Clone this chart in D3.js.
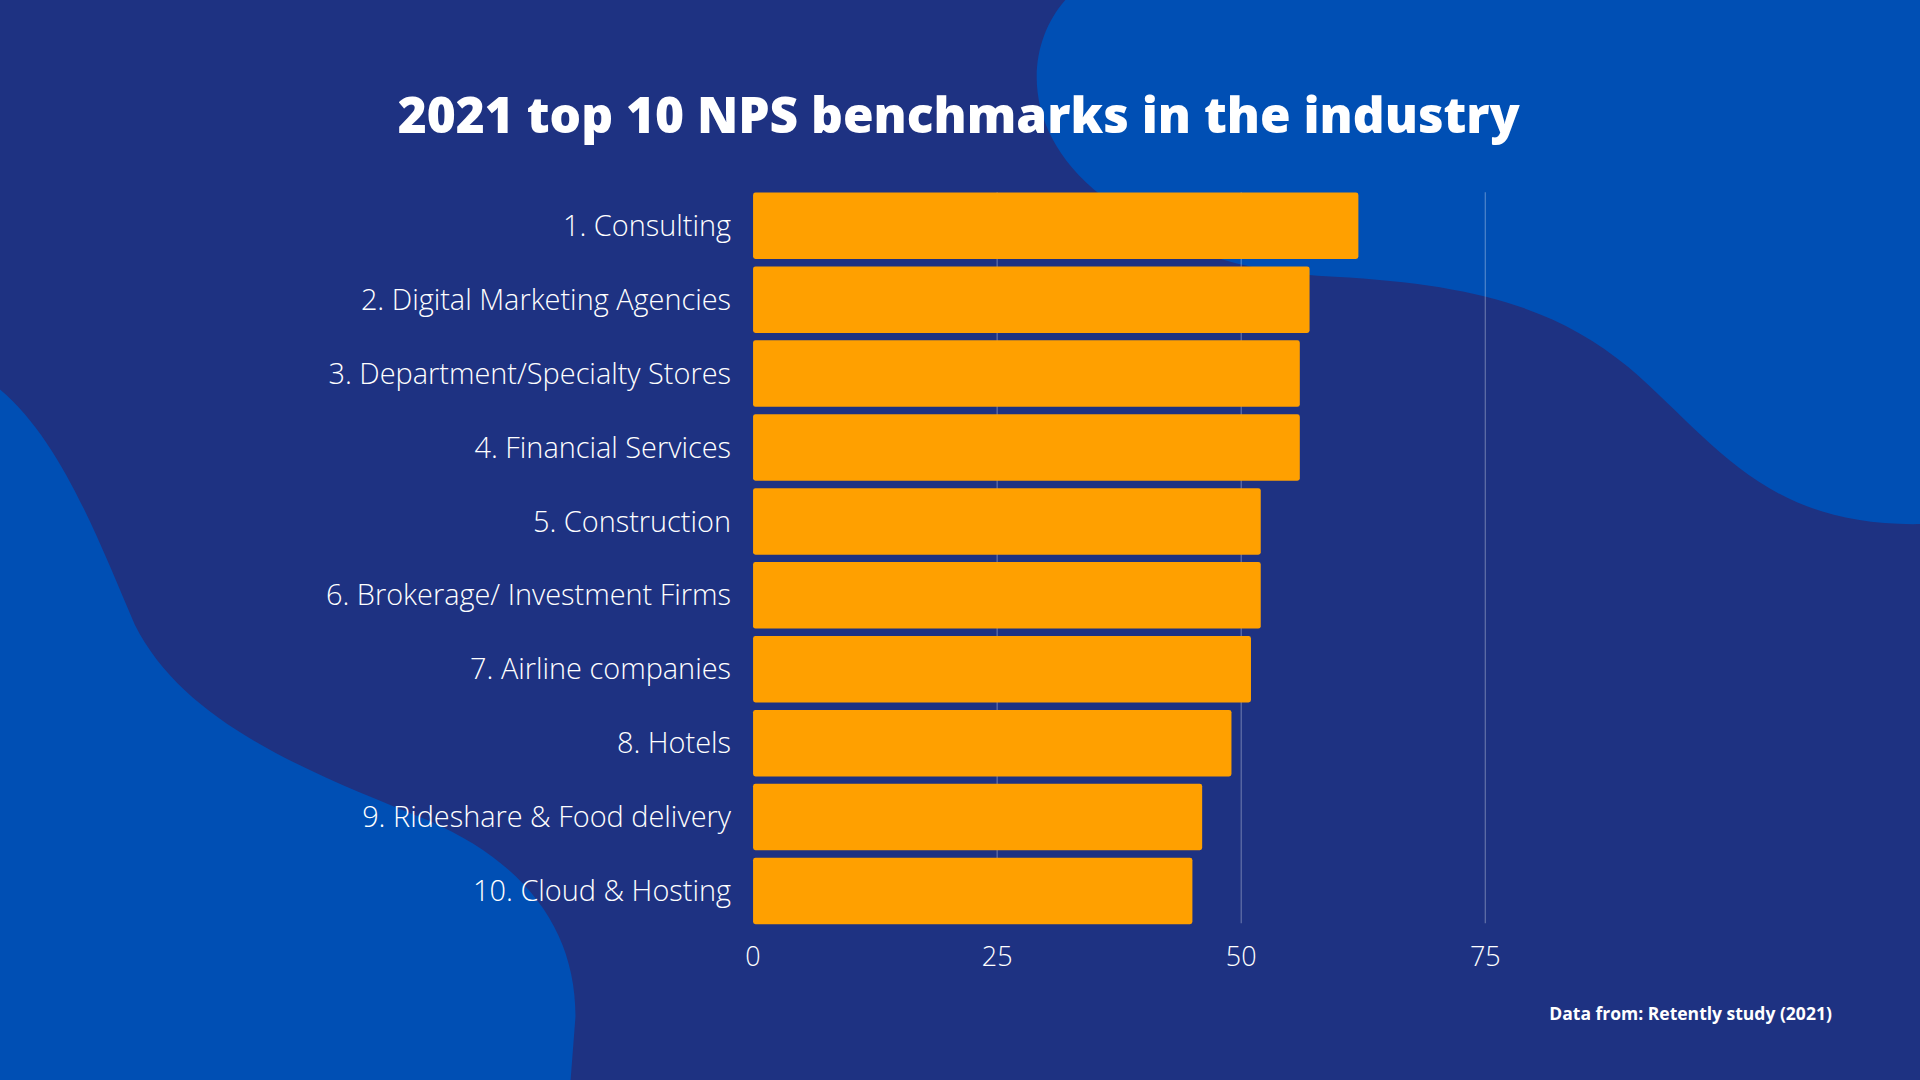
<!DOCTYPE html>
<html><head><meta charset="utf-8">
<script src="https://cdn.jsdelivr.net/npm/d3@7"></script>
<style>body{margin:0;background:#1e3282;overflow:hidden}</style>
</head><body>
<div id="chart"></div>
<script>
const categories = ["1. Consulting","2. Digital Marketing Agencies","3. Department/Specialty Stores","4. Financial Services","5. Construction","6. Brokerage/ Investment Firms","7. Airline companies","8. Hotels","9. Rideshare & Food delivery","10. Cloud & Hosting"];
const values = [62, 57, 56, 56, 52, 52, 51, 49, 46, 45];
const ticks = [0, 25, 50, 75];

// draw in a 1568x882 space, scaled up to the window
const svg = d3.select("#chart").append("svg")
  .attr("width", 1920).attr("height", 1080)
  .attr("viewBox", [0, 0, 1568, 882]);

svg.append("rect").attr("width", 1568).attr("height", 882).attr("fill", "#1e3282");

// background blobs
svg.append("path").attr("fill", "#004fb4")
  .attr("d", "M870,0 C835,40 835,110 900,160 C960,205 1010,222 1090,226 C1200,232 1270,250 1330,300 C1400,360 1440,430 1568,428 L1568,0 Z");
svg.append("path").attr("fill", "#004fb4")
  .attr("d", "M0,318 C50,360 80,440 110,510 C150,590 250,630 350,670 C430,705 470,760 470,830 L466,882 L0,882 Z");

svg.append("text").attr("x", 783).attr("y", 109)
  .attr("text-anchor", "middle").attr("fill", "#fff")
  .style("font", "800 40.5px 'Open Sans', sans-serif")
  .text("2021 top 10 NPS benchmarks in the industry");

const x = d3.scaleLinear().domain([0, 75]).range([615, 1213]);
const y = d3.scaleBand().domain(categories).range([156, 756]).paddingInner(0.1).paddingOuter(0.02);

// gridlines
svg.append("g").selectAll("line").data(ticks.slice(1)).join("line")
  .attr("x1", d => x(d)).attr("x2", d => x(d))
  .attr("y1", 157).attr("y2", 754)
  .attr("stroke", "#ffffff").attr("stroke-opacity", 0.3).attr("stroke-width", 1);

svg.append("g").selectAll("rect").data(values).join("rect")
  .attr("x", x(0)).attr("y", (d, i) => y(categories[i]))
  .attr("width", d => x(d) - x(0)).attr("height", y.bandwidth())
  .attr("rx", 2).attr("fill", "#ffa000");

svg.append("g").selectAll("text").data(categories).join("text")
  .attr("x", 597).attr("y", d => y(d) + y.bandwidth() / 2)
  .attr("dy", "0.35em").attr("text-anchor", "end").attr("fill", "#fff")
  .style("font", "300 23.6px 'Open Sans', sans-serif")
  .text(d => d);

svg.append("g").selectAll("text").data(ticks).join("text")
  .attr("x", d => x(d)).attr("y", 789).attr("text-anchor", "middle").attr("fill", "#fff")
  .style("font", "300 22px 'Open Sans', sans-serif")
  .text(d => d);

svg.append("text").attr("x", 1496).attr("y", 833).attr("text-anchor", "end").attr("fill", "#fff")
  .style("font", "700 14.3px 'Open Sans', sans-serif")
  .text("Data from: Retently study (2021)");
</script>
</body></html>
